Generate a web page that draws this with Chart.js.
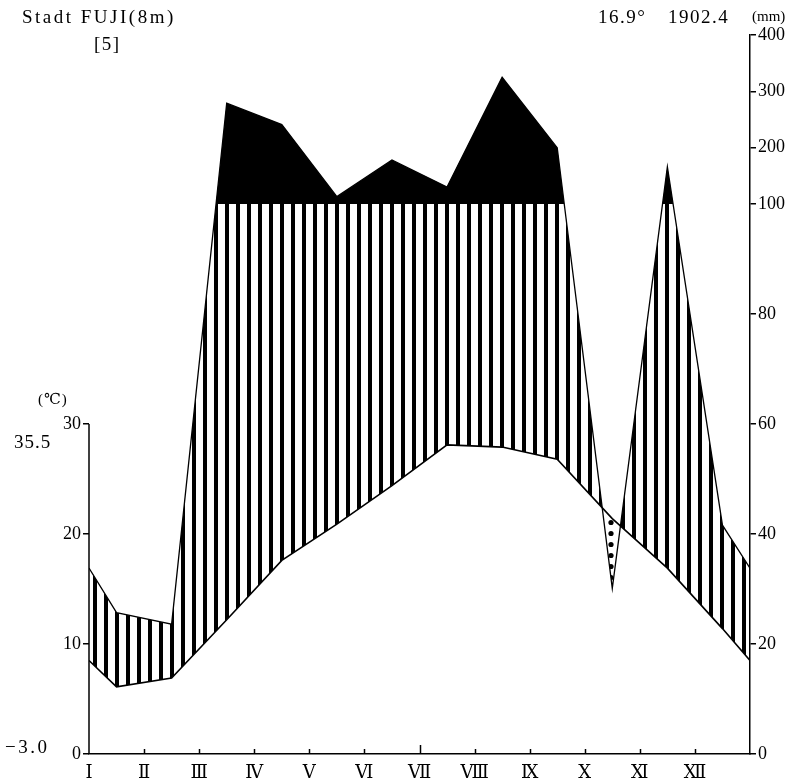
<!DOCTYPE html>
<html>
<head>
<meta charset="utf-8">
<title>Stadt FUJI climate diagram</title>
<script src="https://cdn.jsdelivr.net/npm/chart.js@4.4.1/dist/chart.umd.min.js"></script>
<style>
  body { margin: 0; background: #fff; }
  canvas { display: block; }
</style>
</head>
<body>
<canvas id="climateChart" width="799" height="783"></canvas>
<script>
// Station header texts
const stationName = 'Stadt FUJI(8m)';
const yearsLabel = '[5]';
const annualTemp = '16.9°';
const annualPrecip = '1902.4';
const absMaxTemp = '35.5';
const absMinTemp = '−3.0';

// Monthly values
const months = ['Ⅰ', 'Ⅱ', 'Ⅲ', 'Ⅳ', 'Ⅴ', 'Ⅵ', 'Ⅶ', 'Ⅷ', 'Ⅸ', 'Ⅹ', 'Ⅺ', 'Ⅻ'];
const temperature = [6.1, 6.9, 12.2, 17.6, 20.9, 24.4, 28.1, 27.9, 26.8, 21.4, 16.9, 11.4];
const precipitation = [25.7, 23.6, 279, 241, 113, 178, 130, 325, 200, 30.1, 166, 41.6];
// values drawn at the left/right edge (year boundary)
const temperatureEdge = 8.5;
const precipitationEdge = 33.8;

// Axis ticks
const tempTicks = [0, 10, 20, 30];
const precipTicks = [0, 20, 40, 60, 80, 100, 200, 300, 400];

// above 100 mm the scale is compressed
const UPPER_RATIO = 0.1024;
function precipToAxis(mm) {
    return mm <= 100 ? mm : 100 + (mm - 100) * UPPER_RATIO;
}
const precipMax = precipToAxis(400);

function toPoints(values, edge, map) {
    const f = map || (v => v);
    const pts = [{ x: 0, y: f(edge) }];
    values.forEach((v, i) => pts.push({ x: i + 0.5, y: f(v) }));
    pts.push({ x: months.length, y: f(edge) });
    return pts;
}

const serif = "'Liberation Serif', 'DejaVu Serif', serif";

// Fill patterns
function makeStripes() {
    const c = document.createElement('canvas');
    c.width = 11; c.height = 11;
    const g = c.getContext('2d');
    g.fillStyle = '#000';
    g.fillRect(5, 0, 4, 11);
    return g.createPattern(c, 'repeat');
}
function makeDots() {
    const c = document.createElement('canvas');
    c.width = 11; c.height = 11;
    const g = c.getContext('2d');
    g.fillStyle = '#000';
    g.beginPath();
    g.arc(6, 5.5, 2.6, 0, Math.PI * 2);
    g.fill();
    return g.createPattern(c, 'repeat');
}

function spacedText(ctx, text, x, y, spacing) {
    ctx.letterSpacing = spacing + 'px';
    ctx.fillText(text, x, y);
    ctx.letterSpacing = '0px';
}

// Extra bits of the diagram: short axis line, inward month ticks, header texts
const diagramExtras = {
    id: 'diagramExtras',
    afterDraw(chart) {
        const { ctx, chartArea, scales } = chart;
        const x = scales.x, yT = scales.yT;
        ctx.save();
        ctx.strokeStyle = '#000';
        ctx.lineWidth = 1.5;

        // temperature axis only runs up to 30
        ctx.beginPath();
        ctx.moveTo(chartArea.left, yT.getPixelForValue(0));
        ctx.lineTo(chartArea.left, yT.getPixelForValue(30));
        ctx.stroke();

        // month ticks, pointing into the plot
        for (let i = 1; i < months.length; i++) {
            const px = Math.round(x.getPixelForValue(i)) + 0.5;
            const len = i === 6 ? 9 : 5;
            ctx.beginPath();
            ctx.moveTo(px, chartArea.bottom);
            ctx.lineTo(px, chartArea.bottom - len);
            ctx.stroke();
        }

        ctx.fillStyle = '#000';
        ctx.textBaseline = 'middle';
        ctx.textAlign = 'left';
        ctx.font = '19px ' + serif;
        spacedText(ctx, stationName, 22, 18, 2.5);
        spacedText(ctx, yearsLabel, 94, 45, 1.5);
        spacedText(ctx, annualTemp, 598, 18, 1.5);
        spacedText(ctx, annualPrecip, 668, 18, 1.5);
        spacedText(ctx, absMaxTemp, 14, 443, 1);
        spacedText(ctx, absMinTemp, 5, 748, 2.5);
        ctx.font = '15px ' + serif;
        ctx.fillText('(mm)', 752, 17);
        spacedText(ctx, '(℃)', 38, 400, 1);
        ctx.restore();
    }
};

const ctx = document.getElementById('climateChart').getContext('2d');
const climateChart = new Chart(ctx, {
    type: 'line',
    data: {
        datasets: [{
            // black part above 100 mm
            data: toPoints(precipitation, precipitationEdge, precipToAxis),
            yAxisID: 'yP',
            borderWidth: 0,
            borderColor: 'transparent',
            pointRadius: 0,
            fill: { value: 100, above: '#000', below: 'rgba(0,0,0,0)' }
        }, {
            label: 'Temperature',
            data: toPoints(temperature, temperatureEdge),
            yAxisID: 'yT',
            borderColor: '#000',
            borderWidth: 1.6,
            pointRadius: 0,
            fill: false
        }, {
            label: 'Precipitation',
            data: toPoints(precipitation, precipitationEdge, precipToAxis),
            yAxisID: 'yP',
            borderColor: '#000',
            borderWidth: 1.3,
            pointRadius: 0,
            fill: { target: 1, above: makeStripes(), below: makeDots() }
        }]
    },
    options: {
        responsive: false,
        animation: false,
        layout: { padding: { top: 35 } },
        plugins: {
            legend: { display: false },
            tooltip: { enabled: false }
        },
        elements: { line: { tension: 0 } },
        scales: {
            x: {
                type: 'linear',
                min: 0,
                max: months.length,
                afterBuildTicks: s => { s.ticks = months.map((m, i) => ({ value: i })); },
                afterFit: s => { s.height = 29; },
                ticks: {
                    autoSkip: false,
                    maxRotation: 0,
                    padding: 8,
                    color: '#000',
                    font: { family: serif, size: 18 },
                    callback: v => months[v]
                },
                grid: { drawOnChartArea: false, drawTicks: false },
                border: { display: true, color: '#000', width: 1.5 }
            },
            yT: {
                position: 'left',
                min: 0,
                max: precipMax / 2,
                afterBuildTicks: s => { s.ticks = tempTicks.map(v => ({ value: v })); },
                afterFit: s => { s.width = 89; },
                ticks: {
                    padding: 2,
                    color: '#000',
                    font: { family: serif, size: 18 }
                },
                grid: { drawOnChartArea: false, tickLength: 6, color: '#000', lineWidth: 1.5 },
                border: { display: false }
            },
            yP: {
                position: 'right',
                min: 0,
                max: precipMax,
                afterBuildTicks: s => { s.ticks = precipTicks.map(v => ({ value: precipToAxis(v) })); },
                afterFit: s => { s.width = 49; },
                ticks: {
                    padding: 2,
                    color: '#000',
                    font: { family: serif, size: 18 },
                    callback: (v, i) => precipTicks[i]
                },
                grid: { drawOnChartArea: false, tickLength: 6, color: '#000', lineWidth: 1.5 },
                border: { display: true, color: '#000', width: 1.5 }
            }
        }
    },
    plugins: [diagramExtras]
});
</script>
</body>
</html>
